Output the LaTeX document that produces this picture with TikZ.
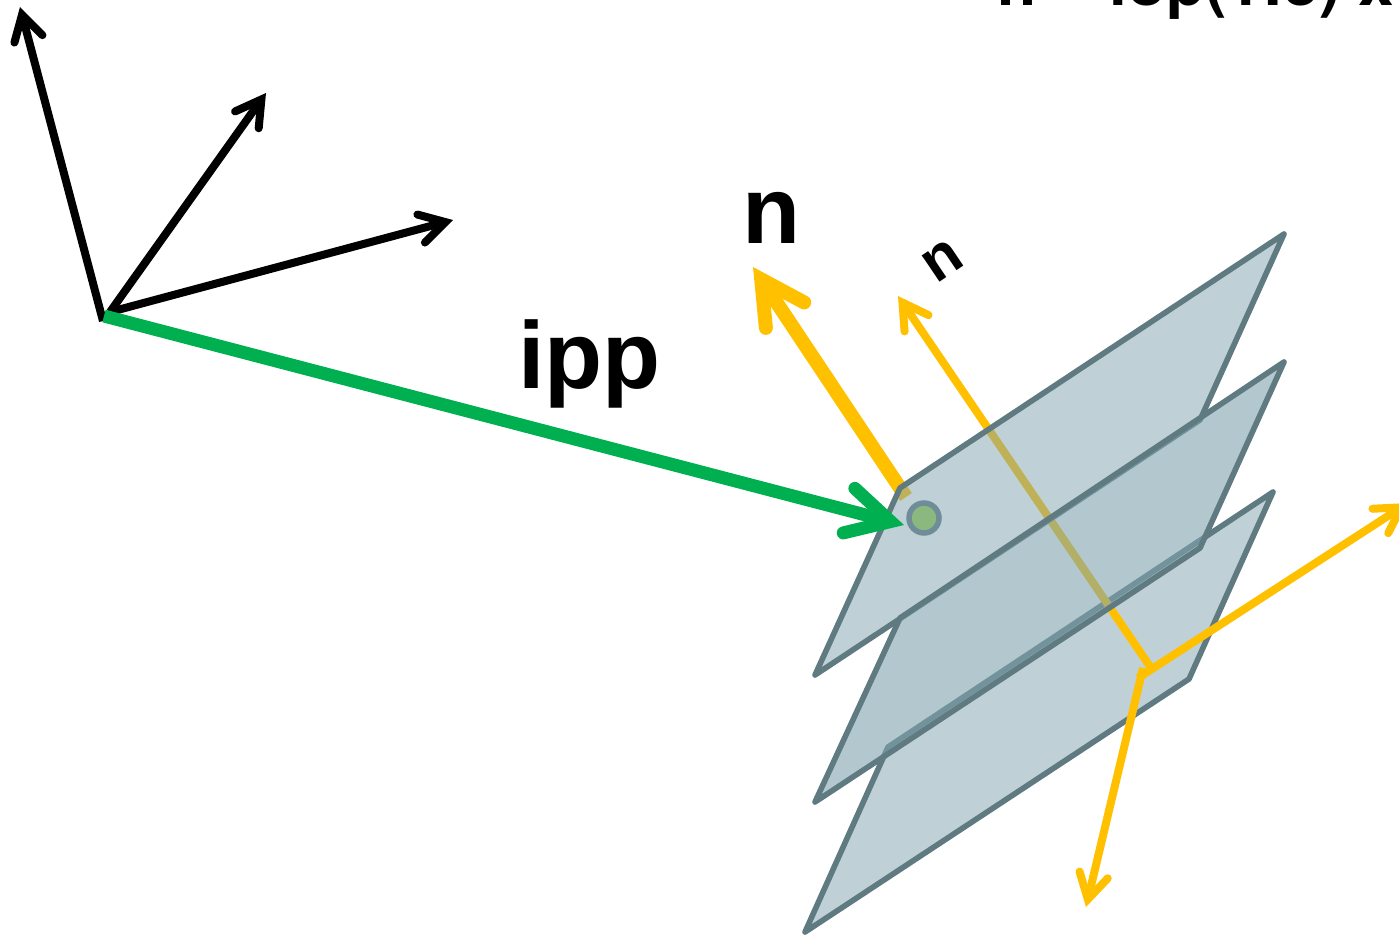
\documentclass[tikz,border=0pt]{standalone}
\usepackage{fontspec}
\setmainfont{Liberation Sans}
\newfontfamily\formulafont{TeX Gyre Heros}
\usetikzlibrary{arrows.meta}
\definecolor{amber}{RGB}{255,192,0}
\definecolor{leaf}{RGB}{0,176,80}
\definecolor{edgegrey}{RGB}{95,122,128}
\definecolor{sheet}{RGB}{128,164,174}
\definecolor{dotfill}{RGB}{138,184,126}
\definecolor{dotedge}{RGB}{111,141,153}
\tikzset{
  x=1pt,y=-1pt,
  plane/.style={draw=edgegrey,line width=5.6pt,line join=round,fill=sheet,fill opacity=#1},
  plane/.default=0.5,
  thinbarb/.style={line width=8pt,-{Straight Barb[length=25pt,width=29pt,line cap=round,line join=miter]}},
  fatbarb/.style={line width=#1,-{Straight Barb[length=43pt,width=46pt,line cap=round,line join=miter]}},
  label/.style={inner sep=0pt,font=\bfseries}
}
\begin{document}
\begin{tikzpicture}
\useasboundingbox (0,0) rectangle (1399,934);
\clip (0,0) rectangle (1399,934);
% named points
\coordinate (o) at (103,321);
\coordinate (o2) at (110,312);
\coordinate (ax1) at (20,7);
\coordinate (ax2) at (266,93);
\coordinate (ax3) at (453,220);
\coordinate (gt) at (904,525);
\coordinate (gs) at (104,316);
\coordinate (ns) at (906,497);
\coordinate (nt) at (753,267);
\coordinate (ms) at (1151,668);
\coordinate (mt) at (898,296);
\coordinate (rs) at (1138,678);
\coordinate (rt) at (1408,503);
\coordinate (ds) at (1143,668);
\coordinate (dt) at (1086,907);
% black axes
\draw[thinbarb] (o) -- (ax1);
\draw[thinbarb] (o2) -- (ax2);
\draw[thinbarb] (o2) -- (ax3);
% lowest plane
\draw[plane] (888,747) -- (1273,492) -- (1189,679) -- (805,932) -- cycle;
% normals that pass behind upper planes
\draw[fatbarb=14pt,amber] (ns) -- (nt);
\draw[thinbarb,amber] (ms) -- (mt);
% upper planes
\draw[plane] (900,488) -- (1284,234) -- (1200,420) -- (815,675) -- cycle;
\draw[plane=0.6] (900,618) -- (1284,362) -- (1200,548) -- (815,802) -- cycle;
% in-plane axes
\draw[thinbarb,amber] (rs) -- (rt);
\draw[thinbarb,amber] (ds) -- (dt);
% position point and vector
\node[circle,draw=dotedge,fill=dotfill,line width=5.5pt,minimum size=30pt,inner sep=0pt] (pt) at (924,518) {};
\draw[fatbarb=13pt,leaf] (gs) -- (gt);
% texts
\node[label,anchor=base west,font=\formulafont\bfseries\fontsize{64}{64}\selectfont] (formula) at (997,5.5) {n = iop(1:3) x};
\node[label,anchor=base west,font=\bfseries\fontsize{95}{95}\selectfont] (ipp) at (518,388) {ipp};
\node[label,anchor=base west,font=\bfseries\fontsize{95}{95}\selectfont] (nbig) at (742,243) {n};
\node[label,rotate=34,font=\bfseries\fontsize{60}{60}\selectfont] (nsmall) at (943,261) {n};
\end{tikzpicture}
\end{document}
